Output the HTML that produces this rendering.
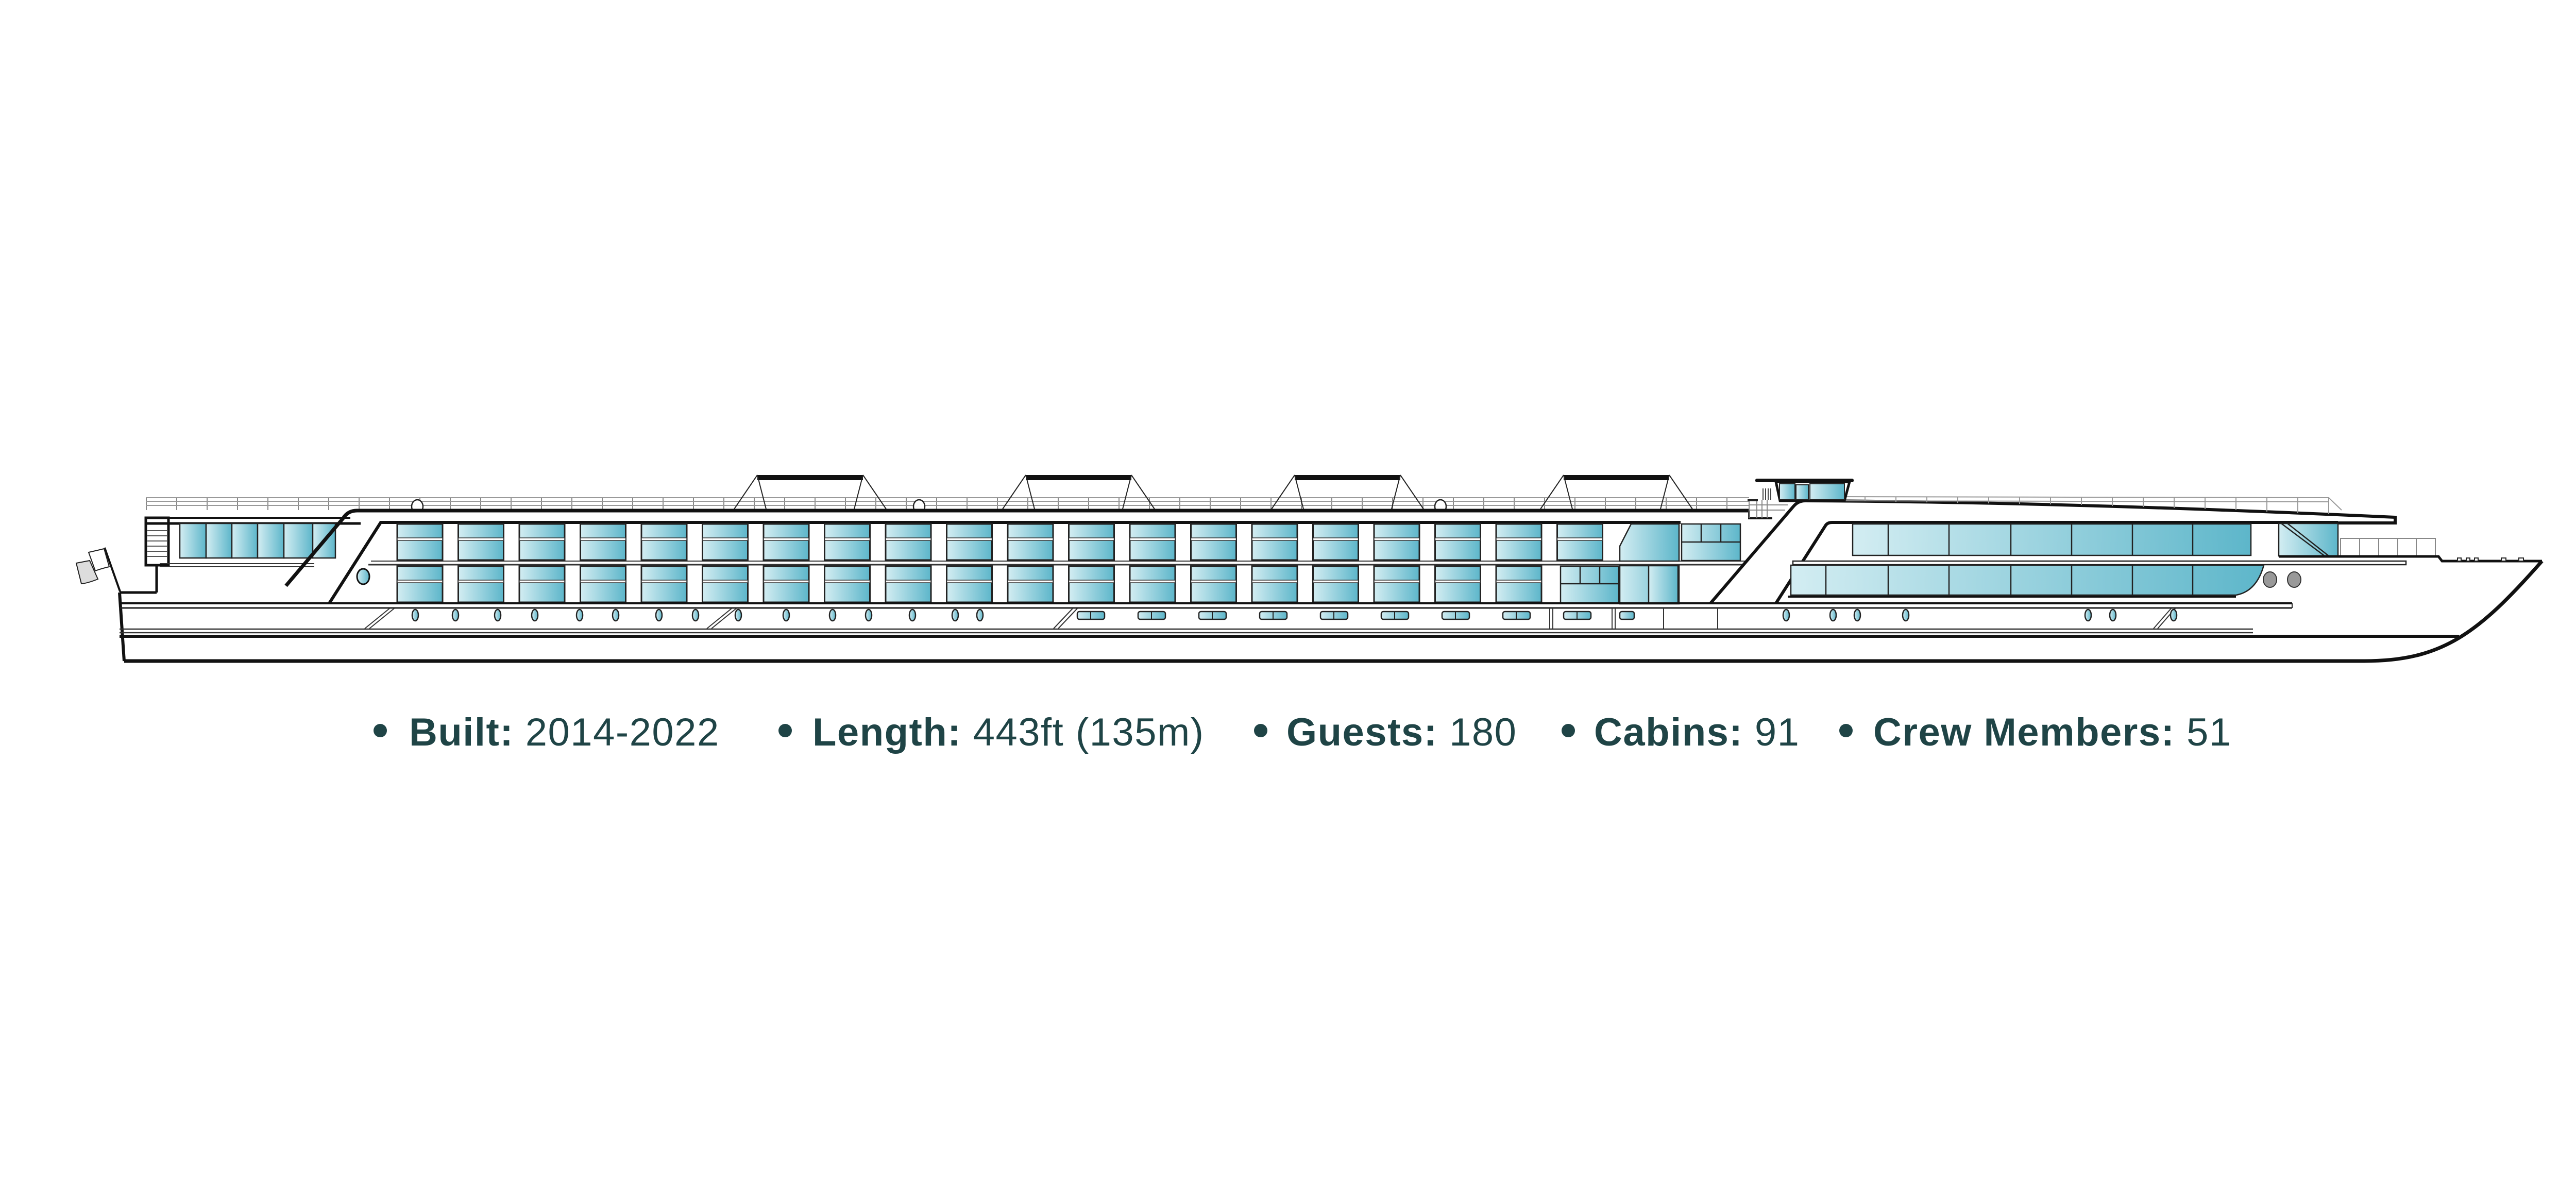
<!DOCTYPE html>
<html><head><meta charset="utf-8">
<style>
html,body{margin:0;padding:0;background:#fff;}
svg{display:block;}
</style></head>
<body>
<svg width="5039" height="2300" viewBox="0 0 5039 2300" xmlns="http://www.w3.org/2000/svg">
<defs>
<linearGradient id="g" x1="0" y1="0" x2="1" y2="0">
<stop offset="0" stop-color="#d3edf2"/><stop offset="1" stop-color="#5db6ca"/>
</linearGradient>
<g id="cw">
<rect x="0" y="0" width="88" height="70" fill="url(#g)" stroke="#222" stroke-width="3"/>
<rect x="0" y="27" width="88" height="5" fill="#fff" stroke="#333" stroke-width="1.5"/>
</g>
<g id="rw">
<rect x="0" y="0" width="53" height="15" rx="4" fill="url(#g)" stroke="#222" stroke-width="2.5"/>
<line x1="26" y1="0" x2="26" y2="15" stroke="#222" stroke-width="2"/>
</g>
<ellipse id="ph" cx="0" cy="0" rx="6" ry="11" fill="url(#g)" stroke="#222" stroke-width="2.5"/>
<pattern id="rail" x="283" y="0" width="59" height="40" patternUnits="userSpaceOnUse">
<line x1="1" y1="0" x2="1" y2="40" stroke="#888" stroke-width="2"/>
</pattern>
<g id="canopy">
<rect x="0" y="0" width="205" height="10" fill="#111"/>
<line x1="0" y1="0" x2="-45" y2="66" stroke="#222" stroke-width="2"/>
<line x1="0" y1="0" x2="17" y2="66" stroke="#222" stroke-width="2"/>
<line x1="205" y1="0" x2="188" y2="66" stroke="#222" stroke-width="2"/>
<line x1="205" y1="0" x2="250" y2="66" stroke="#222" stroke-width="2"/>
</g>
</defs>

<!-- Sun deck railing aft -->
<rect x="283" y="966" width="3112" height="24" fill="url(#rail)"/>
<g stroke="#999" stroke-width="2">
<line x1="283" y1="966" x2="3395" y2="966"/>
<line x1="283" y1="973" x2="3395" y2="973"/>
<line x1="283" y1="981" x2="3395" y2="981"/>
</g>
<use href="#canopy" x="1470" y="922"/>
<use href="#canopy" x="1991" y="922"/>
<use href="#canopy" x="2513" y="922"/>
<use href="#canopy" x="3035" y="922"/>
<g fill="#fff" stroke="#222" stroke-width="2.5">
<ellipse cx="810" cy="983" rx="11" ry="13"/><ellipse cx="1784" cy="983" rx="11" ry="13"/><ellipse cx="2796" cy="983" rx="11" ry="13"/>
</g>

<path d="M232 1150 L304 1150 L304 1097 L327 1097 L327 1005 L693 991 L3395 991 L3504 972 Q4000 974 4649 1004 L4649 1015 L4538 1015 L4538 1080 L4733 1080 L4740 1089 L4934 1089 C4810 1230 4740 1283 4589 1283 L241 1283 Z" fill="#fff"/>

<!-- stern structure -->
<rect x="283" y="1005" width="44" height="92" fill="#fff" stroke="#111" stroke-width="5"/>
<g stroke="#555" stroke-width="2"><line x1="286" y1="1030" x2="324" y2="1030"/><line x1="286" y1="1040" x2="324" y2="1040"/><line x1="286" y1="1050" x2="324" y2="1050"/><line x1="286" y1="1060" x2="324" y2="1060"/><line x1="286" y1="1070" x2="324" y2="1070"/><line x1="286" y1="1080" x2="324" y2="1080"/></g>
<line x1="283" y1="1016" x2="700" y2="1016" stroke="#111" stroke-width="5"/>
<line x1="283" y1="1005" x2="680" y2="1005" stroke="#111" stroke-width="4"/>
<line x1="304" y1="1097" x2="304" y2="1150" stroke="#111" stroke-width="5"/>
<line x1="232" y1="1150" x2="304" y2="1150" stroke="#111" stroke-width="5"/>
<line x1="232" y1="1150" x2="241" y2="1283" stroke="#111" stroke-width="6"/>
<line x1="310" y1="1094" x2="610" y2="1094" stroke="#333" stroke-width="2"/>
<line x1="310" y1="1100" x2="610" y2="1100" stroke="#333" stroke-width="2"/>
<g stroke="#222" stroke-width="2.5">
<rect x="349" y="1016" width="51" height="67" fill="url(#g)"/>
<rect x="400" y="1016" width="50" height="67" fill="url(#g)"/>
<rect x="450" y="1016" width="50" height="67" fill="url(#g)"/>
<rect x="500" y="1016" width="51" height="67" fill="url(#g)"/>
<rect x="551" y="1016" width="56" height="67" fill="url(#g)"/>
<rect x="607" y="1016" width="44" height="67" fill="url(#g)"/>
</g>
<!-- flag -->
<line x1="203" y1="1063" x2="233" y2="1148" stroke="#111" stroke-width="4"/>
<path d="M172 1072 Q190 1068 202 1065 L212 1100 Q195 1104 185 1108 Z" fill="#fff" stroke="#222" stroke-width="2"/>
<path d="M148 1093 L174 1088 L190 1124 Q170 1132 158 1133 Z" fill="#ddd" stroke="#222" stroke-width="2"/>

<path d="M555 1137 L666 1006 Q675 991 693 991 L3395 991" fill="none" stroke="#111" stroke-width="7"/>
<path d="M639 1171 L739 1014 L3262 1014" fill="#fff" stroke="#111" stroke-width="6"/>
<line x1="720" y1="1089" x2="3400" y2="1089" stroke="#333" stroke-width="2"/>
<line x1="715" y1="1096" x2="3400" y2="1096" stroke="#333" stroke-width="3"/>
<ellipse cx="705" cy="1119" rx="12" ry="15" fill="url(#g)" stroke="#111" stroke-width="3"/>

<use href="#cw" x="771" y="1017"/><use href="#cw" x="889.5" y="1017"/><use href="#cw" x="1008" y="1017"/><use href="#cw" x="1126.5" y="1017"/><use href="#cw" x="1245" y="1017"/><use href="#cw" x="1363.5" y="1017"/><use href="#cw" x="1482" y="1017"/><use href="#cw" x="1600.5" y="1017"/><use href="#cw" x="1719" y="1017"/><use href="#cw" x="1837.5" y="1017"/><use href="#cw" x="1956" y="1017"/><use href="#cw" x="2074.5" y="1017"/><use href="#cw" x="2193" y="1017"/><use href="#cw" x="2311.5" y="1017"/><use href="#cw" x="2430" y="1017"/><use href="#cw" x="2548.5" y="1017"/><use href="#cw" x="2667" y="1017"/><use href="#cw" x="2785.5" y="1017"/><use href="#cw" x="2904" y="1017"/><use href="#cw" x="3022.5" y="1017"/>
<use href="#cw" x="771" y="1099"/><use href="#cw" x="889.5" y="1099"/><use href="#cw" x="1008" y="1099"/><use href="#cw" x="1126.5" y="1099"/><use href="#cw" x="1245" y="1099"/><use href="#cw" x="1363.5" y="1099"/><use href="#cw" x="1482" y="1099"/><use href="#cw" x="1600.5" y="1099"/><use href="#cw" x="1719" y="1099"/><use href="#cw" x="1837.5" y="1099"/><use href="#cw" x="1956" y="1099"/><use href="#cw" x="2074.5" y="1099"/><use href="#cw" x="2193" y="1099"/><use href="#cw" x="2311.5" y="1099"/><use href="#cw" x="2430" y="1099"/><use href="#cw" x="2548.5" y="1099"/><use href="#cw" x="2667" y="1099"/><use href="#cw" x="2785.5" y="1099"/><use href="#cw" x="2904" y="1099"/>
<g stroke="#222" stroke-width="2.5">
<rect x="3029" y="1099" width="113" height="72" fill="url(#g)"/>
<line x1="3029" y1="1133" x2="3142" y2="1133"/>
<line x1="3067" y1="1099" x2="3067" y2="1133"/><line x1="3105" y1="1099" x2="3105" y2="1133"/>
<path d="M3144 1060 L3166 1017 L3259 1017 L3259 1089 L3144 1089 Z" fill="url(#g)"/>
<rect x="3144" y="1098" width="115" height="74" fill="url(#g)"/>
<rect x="3264" y="1017" width="114" height="71" fill="url(#g)"/>
<line x1="3264" y1="1052" x2="3378" y2="1052"/>
<line x1="3302" y1="1017" x2="3302" y2="1052"/><line x1="3340" y1="1017" x2="3340" y2="1052"/>
<rect x="3200" y="1098" width="57" height="73" fill="url(#g)"/>
</g>

<!-- forward superstructure -->
<path d="M3395 991 L3395 1006 L3440 1006" fill="none" stroke="#111" stroke-width="4"/>
<g stroke="#888" stroke-width="2"><line x1="3395" y1="970" x2="3395" y2="1006"/><line x1="3410" y1="970" x2="3410" y2="1006"/><line x1="3420" y1="970" x2="3420" y2="1006"/><line x1="3430" y1="970" x2="3430" y2="1006"/><line x1="3395" y1="980" x2="3470" y2="980"/><line x1="3395" y1="990" x2="3465" y2="990"/></g>
<rect x="3392" y="969" width="20" height="4" fill="#222"/>
<path d="M3320 1171 L3481 983 Q3490 972 3504 972 Q4000 974 4649 1004 L4649 1015 L4538 1015" fill="#fff" stroke="#111" stroke-width="6"/>
<path d="M3447 1171 L3544 1019 Q3548 1014 3556 1014 L4538 1014" fill="none" stroke="#111" stroke-width="6"/>
<g stroke="#999" stroke-width="2" fill="none">
<path d="M3540 964 L4520 966 L4545 990"/>
<path d="M3540 972 L4520 974"/>
<line x1="3560" y1="964" x2="3560" y2="973"/><line x1="3620" y1="964" x2="3620" y2="973"/><line x1="3680" y1="964" x2="3680" y2="974"/><line x1="3740" y1="964" x2="3740" y2="975"/><line x1="3800" y1="964" x2="3800" y2="976"/><line x1="3860" y1="964" x2="3860" y2="977"/><line x1="3920" y1="964" x2="3920" y2="978"/><line x1="3980" y1="964" x2="3980" y2="979"/><line x1="4040" y1="964" x2="4040" y2="980"/><line x1="4100" y1="965" x2="4100" y2="982"/><line x1="4160" y1="965" x2="4160" y2="984"/><line x1="4220" y1="965" x2="4220" y2="986"/><line x1="4280" y1="965" x2="4280" y2="988"/><line x1="4340" y1="965" x2="4340" y2="990"/><line x1="4400" y1="966" x2="4400" y2="993"/><line x1="4460" y1="966" x2="4460" y2="996"/><line x1="4520" y1="966" x2="4520" y2="998"/>
</g>
<!-- wheelhouse -->
<path d="M3447 935 L3590 935 L3580 972 L3455 972 Z" fill="#fff" stroke="#111" stroke-width="5"/>
<rect x="3454" y="939" width="30" height="31" fill="url(#g)" stroke="#222" stroke-width="2"/>
<rect x="3486" y="941" width="24" height="29" fill="url(#g)" stroke="#222" stroke-width="2"/>
<rect x="3513" y="939" width="67" height="31" fill="url(#g)" stroke="#222" stroke-width="2"/>
<rect x="3407" y="929" width="191" height="7" rx="3" fill="#111"/>
<g stroke="#444" stroke-width="2"><line x1="3422" y1="948" x2="3422" y2="970"/><line x1="3427" y1="948" x2="3427" y2="970"/><line x1="3432" y1="948" x2="3432" y2="970"/><line x1="3437" y1="948" x2="3437" y2="970"/></g>
<g stroke="#222" stroke-width="2.5">
<rect x="3596" y="1017" width="773" height="61" fill="url(#g)"/>
<line x1="3665" y1="1017" x2="3665" y2="1078"/><line x1="3783" y1="1017" x2="3783" y2="1078"/><line x1="3903" y1="1017" x2="3903" y2="1078"/><line x1="4021" y1="1017" x2="4021" y2="1078"/><line x1="4139" y1="1017" x2="4139" y2="1078"/><line x1="4256" y1="1017" x2="4256" y2="1078"/>
<rect x="4423" y="1016" width="115" height="63" fill="url(#g)"/>
<line x1="4428" y1="1016" x2="4512" y2="1079"/><line x1="4440" y1="1016" x2="4520" y2="1079"/>
<path d="M3476 1097 L4394 1097 Q4380 1148 4340 1155 L3476 1155 Z" fill="url(#g)"/>
<line x1="3544" y1="1097" x2="3544" y2="1155"/><line x1="3665" y1="1097" x2="3665" y2="1155"/><line x1="3783" y1="1097" x2="3783" y2="1155"/><line x1="3903" y1="1097" x2="3903" y2="1155"/><line x1="4021" y1="1097" x2="4021" y2="1155"/><line x1="4139" y1="1097" x2="4139" y2="1155"/><line x1="4256" y1="1097" x2="4256" y2="1155"/>
</g>
<line x1="3470" y1="1158" x2="4340" y2="1158" stroke="#111" stroke-width="4"/>
<rect x="4543" y="1045" width="184" height="35" fill="#fff" stroke="#888" stroke-width="2"/>
<g stroke="#888" stroke-width="2"><line x1="4580" y1="1045" x2="4580" y2="1080"/><line x1="4617" y1="1045" x2="4617" y2="1080"/><line x1="4654" y1="1045" x2="4654" y2="1080"/><line x1="4690" y1="1045" x2="4690" y2="1080"/></g>
<rect x="3480" y="1089" width="1190" height="7" fill="#fff" stroke="#222" stroke-width="2.5"/>
<path d="M4423 1080 L4733 1080 L4740 1089 L4934 1089" fill="none" stroke="#111" stroke-width="5"/>
<g fill="#fff" stroke="#222" stroke-width="2"><rect x="4770" y="1083" width="7" height="6"/><rect x="4787" y="1083" width="7" height="6"/><rect x="4803" y="1083" width="7" height="6"/><rect x="4855" y="1083" width="9" height="6"/><rect x="4889" y="1083" width="9" height="6"/></g>
<g fill="#999" stroke="#333" stroke-width="2"><ellipse cx="4406" cy="1125" rx="13" ry="15"/><ellipse cx="4453" cy="1125" rx="13" ry="15"/></g>

<!-- hull decks -->
<line x1="232" y1="1171" x2="4449" y2="1171" stroke="#111" stroke-width="4"/>
<line x1="232" y1="1180" x2="4449" y2="1180" stroke="#222" stroke-width="3"/>
<line x1="4449" y1="1171" x2="4449" y2="1180" stroke="#222" stroke-width="2"/>
<line x1="232" y1="1221" x2="4373" y2="1221" stroke="#333" stroke-width="2.5"/>
<line x1="232" y1="1228" x2="4373" y2="1228" stroke="#333" stroke-width="2.5"/>
<line x1="232" y1="1235" x2="4773" y2="1235" stroke="#111" stroke-width="6"/>
<path d="M241 1283 L4589 1283 C4740 1283 4810 1230 4934 1089" fill="none" stroke="#111" stroke-width="7"/>
<g stroke="#333" stroke-width="2">
<line x1="756" y1="1181" x2="708" y2="1220"/><line x1="765" y1="1181" x2="717" y2="1220"/>
<line x1="1420" y1="1181" x2="1372" y2="1220"/><line x1="1429" y1="1181" x2="1381" y2="1220"/>
<line x1="2082" y1="1181" x2="2045" y2="1220"/><line x1="2091" y1="1181" x2="2054" y2="1220"/>
<line x1="4214" y1="1181" x2="4180" y2="1220"/><line x1="4222" y1="1181" x2="4188" y2="1220"/>
<line x1="3008" y1="1180" x2="3008" y2="1221"/><line x1="3014" y1="1180" x2="3014" y2="1221"/>
<line x1="3129" y1="1180" x2="3129" y2="1221"/><line x1="3135" y1="1180" x2="3135" y2="1221"/>
<line x1="3229" y1="1180" x2="3229" y2="1221"/><line x1="3334" y1="1180" x2="3334" y2="1221"/>
</g>
<use href="#ph" x="806" y="1194"/><use href="#ph" x="884" y="1194"/><use href="#ph" x="966" y="1194"/><use href="#ph" x="1038" y="1194"/><use href="#ph" x="1125" y="1194"/><use href="#ph" x="1195" y="1194"/><use href="#ph" x="1279" y="1194"/><use href="#ph" x="1350" y="1194"/><use href="#ph" x="1433" y="1194"/><use href="#ph" x="1526" y="1194"/><use href="#ph" x="1616" y="1194"/><use href="#ph" x="1686" y="1194"/><use href="#ph" x="1771" y="1194"/><use href="#ph" x="1854" y="1194"/><use href="#ph" x="1902" y="1194"/>
<use href="#rw" x="2091" y="1187"/><use href="#rw" x="2209" y="1187"/><use href="#rw" x="2327" y="1187"/><use href="#rw" x="2445" y="1187"/><use href="#rw" x="2563" y="1187"/><use href="#rw" x="2681" y="1187"/><use href="#rw" x="2799" y="1187"/><use href="#rw" x="2917" y="1187"/><use href="#rw" x="3035" y="1187"/>
<rect x="3144" y="1187" width="28" height="15" rx="4" fill="url(#g)" stroke="#222" stroke-width="2.5"/>
<use href="#ph" x="3467" y="1194"/><use href="#ph" x="3558" y="1194"/><use href="#ph" x="3605" y="1194"/><use href="#ph" x="3699" y="1194"/><use href="#ph" x="4053" y="1194"/><use href="#ph" x="4101" y="1194"/><use href="#ph" x="4219" y="1194"/>

<g font-family="'Liberation Sans', sans-serif" font-size="76" fill="#1f4446" letter-spacing="1.5">
<circle cx="738" cy="1418" r="13"/>
<text x="794" y="1447"><tspan font-weight="bold">Built:</tspan> 2014-2022</text>
<circle cx="1524" cy="1418" r="13"/>
<text x="1577" y="1447"><tspan font-weight="bold">Length:</tspan> 443ft (135m)</text>
<circle cx="2447" cy="1418" r="13"/>
<text x="2497" y="1447"><tspan font-weight="bold">Guests:</tspan> 180</text>
<circle cx="3044" cy="1418" r="13"/>
<text x="3094" y="1447"><tspan font-weight="bold">Cabins:</tspan> 91</text>
<circle cx="3583" cy="1418" r="13"/>
<text x="3636" y="1447"><tspan font-weight="bold">Crew Members:</tspan> 51</text>
</g>
</svg>
</body></html>
